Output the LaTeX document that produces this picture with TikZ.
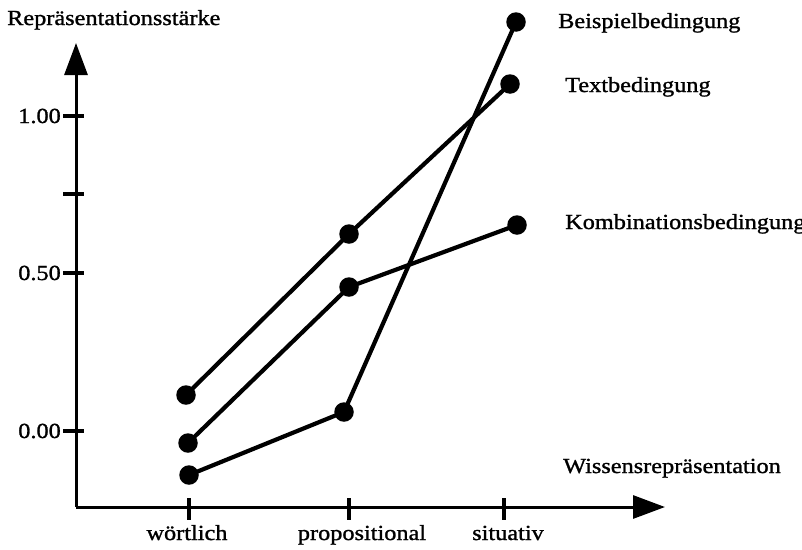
\documentclass[tikz,border=0pt]{standalone}
\usepackage{fontspec}
\setmainfont[FakeStretch=1.13,FakeBold=1.2]{Liberation Serif}
\usetikzlibrary{arrows.meta}
\tikzset{
  axis/.style={line width=3pt, -{Triangle[length=32pt,width=23pt]}},
  tick/.style={line width=3.2pt},
  series/.style={line width=4.2pt},
  dot/.style={circle, fill=black, inner sep=0pt, minimum size=19.5pt},
  lbl/.style={inner sep=0pt, font=\fontsize{21.5}{25}\selectfont},
}
\begin{document}
\begin{tikzpicture}[x=1pt,y=-1pt]
\clip (0,0) rectangle (802,549);
\fill[white] (0,0) rectangle (802,549);

% axes
\coordinate (origin) at (76,507);
\coordinate (ytip) at (76,43);
\coordinate (xtip) at (665,507);
\draw[axis] (origin) -- (ytip);
\draw[axis] (origin) -- (xtip);

% y ticks and labels
\foreach \yy/\name/\txt in {116/t100/1.00, 194/t075/, 273/t050/0.50, 431/t000/0.00} {
  \coordinate (\name a) at (63,\yy);
  \coordinate (\name b) at (84,\yy);
  \draw[tick] (\name a) -- (\name b);
  \node[lbl, anchor=east] (\name l) at (61,\yy) {\txt};
}

% x ticks and labels
\foreach \xx/\name in {189/tw, 349/tp, 504/ts} {
  \coordinate (\name a) at (\xx,498);
  \coordinate (\name b) at (\xx,520);
  \draw[tick] (\name a) -- (\name b);
}
\node[lbl, anchor=base] (lw) at (187,540) {wörtlich};
\node[lbl, anchor=base] (lp) at (362,540) {propositional};
\node[lbl, anchor=base] (ls) at (508,540) {situativ};

% axis titles
\node[lbl, anchor=base west] (ytitle) at (7,25) {Repräsentationsstärke};
\node[lbl, anchor=base west] (xtitle) at (563,473) {Wissensrepräsentation};

% data points
\node[dot] (b1) at (189,475) {};
\node[dot] (b2) at (344,412) {};
\node[dot] (b3) at (516,22) {};
\node[dot] (t1) at (186,395) {};
\node[dot] (t2) at (349,234) {};
\node[dot] (t3) at (510,84) {};
\node[dot] (k1) at (188,443) {};
\node[dot] (k2) at (349,287) {};
\node[dot] (k3) at (517,225) {};

% series
\draw[series] (b1.center) -- (b2.center) -- (b3.center);
\draw[series] (t1.center) -- (t2.center) -- (t3.center);
\draw[series] (k1.center) -- (k2.center) -- (k3.center);

% series labels
\node[lbl, anchor=base west] (lb) at (558,28) {Beispielbedingung};
\node[lbl, anchor=base west] (lt) at (565,92) {Textbedingung};
\node[lbl, anchor=base west] (lk) at (565,229) {Kombinationsbedingung};
\end{tikzpicture}
\end{document}
